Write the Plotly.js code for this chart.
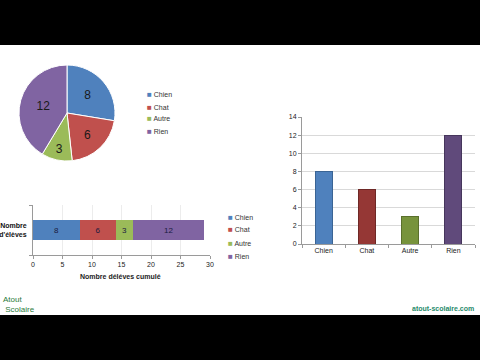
<!DOCTYPE html>
<html><head><meta charset="utf-8">
<script src="https://cdn.plot.ly/plotly-3.0.1.min.js"></script>
<style>html,body{margin:0;padding:0;background:#fff}</style>
</head><body><div id="chart" style="width:480px;height:360px"></div>
<script>
const categories = ["Chien", "Chat", "Autre", "Rien"];
const values = [8, 6, 3, 12];
const colors = ["#4F81BD", "#C0504D", "#9BBB59", "#8064A2"];
const columnColors = ["#4F81BD", "#953735", "#77933C", "#604A7B"];
const columnEdges = ["#3A6494", "#6E2826", "#5A702D", "#46365C"];
const stackLabel = "<b>Nombre<br>d'élèves</b>";
const xTitle = "Nombre déléves cumulé";
const FONT = "Liberation Sans, Arial, sans-serif";

const traces = [];
traces.push({
  type: "pie", labels: categories, values: values, sort: false, direction: "clockwise", rotation: 0,
  marker: {colors: colors, line: {color: "#ffffff", width: 1}},
  textinfo: "value", textposition: "inside", insidetextorientation: "horizontal",
  textfont: {size: 12, color: "#1a1a1a", family: FONT},
  domain: {x: [19/480, 115/480], y: [1-161/360, 1-65/360]}, showlegend: false, hoverinfo: "label+value"
});
categories.forEach((c, i) => {
  traces.push({
    type: "bar", orientation: "h", name: c, x: [values[i]], y: [stackLabel],
    marker: {color: colors[i]}, text: [String(values[i])], textposition: "inside",
    insidetextanchor: "middle", textfont: {size: 8, color: "#1a1a40", family: FONT},
    xaxis: "x2", yaxis: "y2", showlegend: false
  });
});
traces.push({
  type: "bar", x: categories, y: values, marker: {color: columnColors, line: {color: columnEdges, width: 1}},
  xaxis: "x3", yaxis: "y3", showlegend: false
});

const annotations = [];
function legend(x, y0, dy) {
  categories.forEach((c, i) => {
    annotations.push({xref: "paper", yref: "paper", x: x/480, y: 1-(y0+i*dy)/360, xanchor: "left", yanchor: "middle",
      showarrow: false, text: '<span style="color:' + colors[i] + ';font-size:8px">■</span> ' + c,
      font: {size: 7, color: "#333", family: FONT}});
  });
}
legend(145, 95, 12);
legend(226, 217, 13);
annotations.push({xref: "paper", yref: "paper", x: 120/480, y: 1-276/360, showarrow: false, text: "<b>" + xTitle + "</b>",
  font: {size: 7, color: "#222", family: FONT}, xanchor: "center", yanchor: "middle"});
annotations.push({xref: "paper", yref: "paper", x: 1/480, y: 1-304/360, showarrow: false, align: "left",
  text: "Atout<br> Scolaire", font: {size: 8, color: "#2a7a3a", family: FONT}, xanchor: "left", yanchor: "middle"});
annotations.push({xref: "paper", yref: "paper", x: 476/480, y: 1-308/360, showarrow: false,
  text: "<b>atout-scolaire.com</b>", font: {size: 7, color: "#1f8a6a", family: FONT}, xanchor: "right", yanchor: "middle"});

const layout = {
  width: 480, height: 360, margin: {l: 0, r: 0, t: 0, b: 0},
  paper_bgcolor: "#ffffff", plot_bgcolor: "rgba(0,0,0,0)",
  font: {family: FONT, size: 7, color: "#222"},
  barmode: "stack", bargap: 0.61, showlegend: false,
  xaxis2: {domain: [33/480, 210/480], anchor: "y2", range: [0, 30], dtick: 5, showgrid: true, gridcolor: "#ececec", zeroline: false,
    showline: true, linecolor: "#9a9a9a", ticks: "outside", ticklen: 3, tickcolor: "#9a9a9a",
    tickfont: {size: 7, color: "#222"}, fixedrange: true},
  yaxis2: {domain: [1-255/360, 1-205/360], anchor: "x2", type: "category", range: [-0.5, 0.5],
    showline: true, linecolor: "#9a9a9a", ticks: "outside", tickson: "boundaries", ticklen: 3, tickcolor: "#9a9a9a",
    tickfont: {size: 7, color: "#111"}, ticklabelstandoff: 4, showgrid: false, fixedrange: true},
  xaxis3: {domain: [302/480, 475/480], anchor: "y3", type: "category", showline: true, linecolor: "#9a9a9a",
    ticks: "outside", tickson: "boundaries", ticklen: 3, tickcolor: "#9a9a9a", showgrid: false,
    tickfont: {size: 7, color: "#222"}, fixedrange: true},
  yaxis3: {domain: [1-244/360, 1-117/360], anchor: "x3", range: [0, 14], dtick: 2, showgrid: true, gridcolor: "#d9d9d9",
    zeroline: false, showline: true, linecolor: "#9a9a9a", ticks: "outside", ticklen: 3, tickcolor: "#9a9a9a",
    tickfont: {size: 7, color: "#222"}, fixedrange: true},
  annotations: annotations,
  shapes: [
    {type: "rect", xref: "paper", yref: "paper", x0: 0, x1: 1, y0: 1-45/360, y1: 1, fillcolor: "#000", line: {width: 0}, layer: "above"},
    {type: "rect", xref: "paper", yref: "paper", x0: 0, x1: 1, y0: 0, y1: 1-315/360, fillcolor: "#000", line: {width: 0}, layer: "above"}
  ]
};
Plotly.newPlot("chart", traces, layout, {displayModeBar: false, staticPlot: true});
</script></body></html>
